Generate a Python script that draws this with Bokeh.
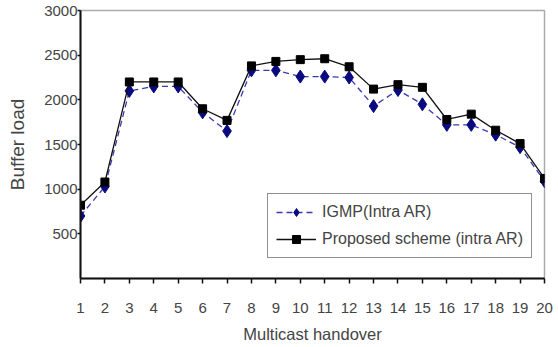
from bokeh.plotting import figure
from bokeh.models import Range1d, FixedTicker, Legend, LegendItem
from bokeh.embed import file_html
from bokeh.resources import INLINE

handover = list(range(1, 21))
igmp = [700, 1030, 2100, 2150, 2150, 1860, 1650, 2330, 2330, 2260,
        2260, 2250, 1930, 2110, 1950, 1720, 1720, 1610, 1470, 1090]
proposed = [820, 1080, 2200, 2200, 2200, 1900, 1770, 2380, 2430, 2450,
            2460, 2370, 2120, 2170, 2140, 1780, 1840, 1660, 1510, 1120]
y_ticks = [500, 1000, 1500, 2000, 2500, 3000]
x_label = "Multicast handover"
y_label = "Buffer load"
series_names = ["IGMP(Intra AR)", "Proposed scheme (intra AR)"]

FONT = "Liberation Sans"
TXT = "#444444"

p = figure(width=554, height=347, output_backend="svg", toolbar_location=None,
           x_range=Range1d(1, 20), y_range=Range1d(0, 3000),
           min_border_left=80, min_border_right=10, min_border_top=10,
           min_border_bottom=69)
p.grid.visible = False
p.background_fill_color = "white"
p.border_fill_color = "white"
p.outline_line_color = "#aaaaaa"
p.outline_line_width = 1.5

p.xaxis.ticker = FixedTicker(ticks=handover)
p.yaxis.ticker = FixedTicker(ticks=y_ticks)
for ax in (p.xaxis, p.yaxis):
    ax.axis_line_color = "#111111"
    ax.axis_line_width = 2
    ax.major_tick_line_color = "#111111"
    ax.major_tick_line_width = 1.5
    ax.major_tick_in = 0
    ax.minor_tick_line_color = None
    ax.major_label_text_font = FONT
    ax.major_label_text_font_size = "15px"
    ax.major_label_text_color = TXT
    ax.axis_label_text_font = FONT
    ax.axis_label_text_font_style = "normal"
    ax.axis_label_text_color = TXT
p.xaxis.major_tick_out = 5
p.yaxis.major_tick_out = 3
p.xaxis.axis_label = x_label
p.yaxis.axis_label = y_label
p.xaxis.axis_label_text_font_size = "16.5px"
p.yaxis.axis_label_text_font_size = "19px"
p.xaxis.major_label_standoff = 19
p.xaxis.axis_label_standoff = 9
p.yaxis.major_label_standoff = 0
p.yaxis.axis_label_standoff = 13

l1 = p.line(handover, igmp, line_color="#3a3ab0", line_width=1.3, line_dash="6 4")
m1 = p.scatter(handover, igmp, marker="diamond", size=13, fill_color="#0a0a80",
               line_color="#0a0a80")
l2 = p.line(handover, proposed, line_color="#111111", line_width=1.3)
m2 = p.scatter(handover, proposed, marker="square", size=8, fill_color="#000000",
               line_color="#000000")

legend = Legend(items=[LegendItem(label=series_names[0], renderers=[l1, m1]),
                       LegendItem(label=series_names[1], renderers=[l2, m2])],
                location=(187, 20), orientation="vertical",
                border_line_color="#222222", border_line_width=1.5,
                background_fill_color="white", background_fill_alpha=1,
                label_text_font=FONT, label_text_font_size="16px",
                label_text_color=TXT, glyph_width=40, glyph_height=20,
                label_height=20, label_standoff=6, spacing=7, padding=8,
                margin=0)
p.add_layout(legend, "center")

open("out.html", "w").write(file_html(p, INLINE))
